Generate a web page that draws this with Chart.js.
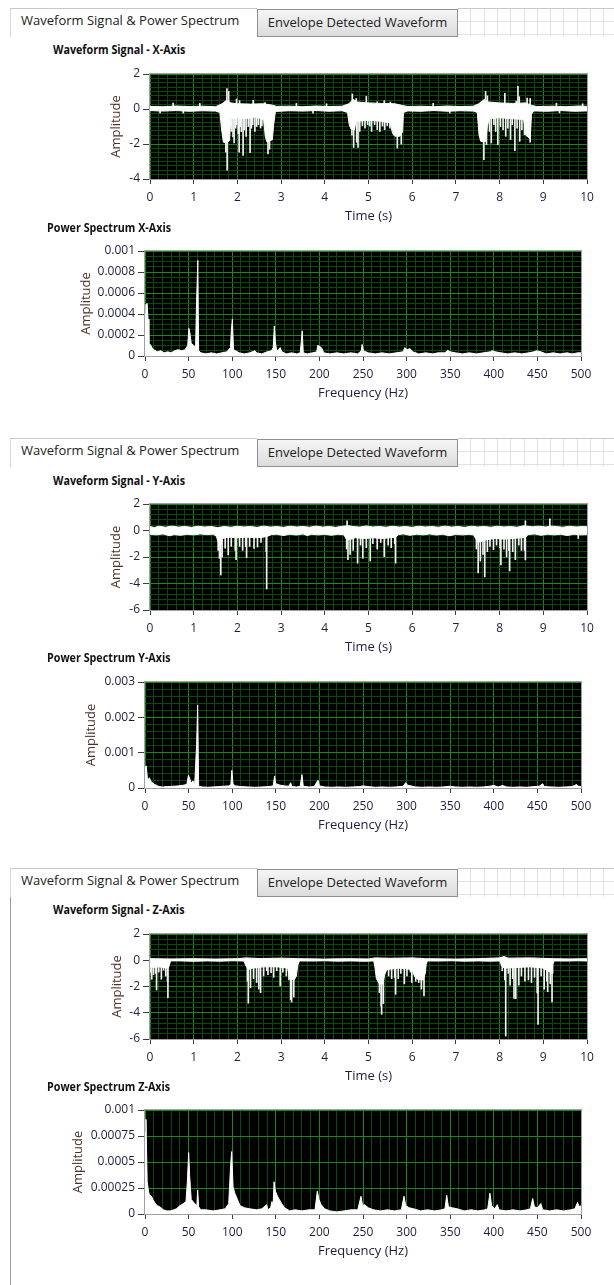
<!DOCTYPE html>
<html>
<head>
<meta charset="utf-8">
<title>Waveform Signal &amp; Power Spectrum</title>
<script src="https://cdn.jsdelivr.net/npm/chart.js@4.4.1/dist/chart.umd.min.js"></script>
<style>
  html, body { margin:0; padding:0; background:#fff; }
  body { position:relative; width:614px; height:1285px; overflow:hidden; font-family:"Open Sans","Noto Sans",sans-serif; color:#1a1a1a; }
  .strip { position:absolute; left:0; width:614px; height:29px; }
  .tab-on { position:absolute; left:10px; top:0; width:247px; height:29px; background:#fff; border-top:1px solid #c8c8c8; border-left:1px solid #d8d8d8; box-sizing:border-box; font-size:13px; line-height:22px; padding-left:10px; white-space:nowrap; color:#222; }
  .tab-off { position:absolute; left:257px; top:1px; width:201px; height:28px; box-sizing:border-box; border:1px solid #8e8e8e; background:linear-gradient(#f5f5f5,#dcdcdc); font-size:13px; line-height:25px; text-align:center; white-space:nowrap; color:#222; }
  .tab-grid { position:absolute; left:458px; top:0; width:156px; height:29px; border-top:1px solid #c8c8c8; box-sizing:border-box;
    background-image: repeating-linear-gradient(to right, transparent 0, transparent 12.3px, #e2e2e2 12.3px, #e2e2e2 13.3px),
                      repeating-linear-gradient(to bottom, transparent 0, transparent 12px, #e2e2e2 12px, #e2e2e2 13px); }
  .caption { position:absolute; font-weight:700; font-size:12.5px; line-height:16px; white-space:nowrap; color:#111; transform:scaleX(0.86); transform-origin:0 50%; }
  .edge { position:absolute; left:10px; width:1px; background:#9c9c9c; }
  canvas { position:absolute; left:0; }
</style>
</head>
<body>

<div class="strip" style="top:8px"><div class="tab-on">Waveform Signal &amp; Power Spectrum</div><div class="tab-off">Envelope Detected Waveform</div><div class="tab-grid"></div></div>
<div class="caption" style="left:53px; top:42px">Waveform Signal - X-Axis</div>
<canvas id="waveX"></canvas>
<div class="caption" style="left:47px; top:220px">Power Spectrum X-Axis</div>
<canvas id="specX"></canvas>

<div class="strip" style="top:438px"><div class="tab-on">Waveform Signal &amp; Power Spectrum</div><div class="tab-off">Envelope Detected Waveform</div><div class="tab-grid"></div></div>
<div class="caption" style="left:53px; top:473px">Waveform Signal - Y-Axis</div>
<canvas id="waveY"></canvas>
<div class="caption" style="left:47px; top:650px">Power Spectrum Y-Axis</div>
<canvas id="specY"></canvas>

<div class="edge" style="top:868px; height:417px"></div>
<div class="strip" style="top:868px"><div class="tab-on">Waveform Signal &amp; Power Spectrum</div><div class="tab-off">Envelope Detected Waveform</div><div class="tab-grid"></div></div>
<div class="caption" style="left:53px; top:902px">Waveform Signal - Z-Axis</div>
<canvas id="waveZ"></canvas>
<div class="caption" style="left:47px; top:1079px">Power Spectrum Z-Axis</div>
<canvas id="specZ"></canvas>

<script>
// ---------- time-domain signals ----------
// upper / lower edge of the dense trace, [time s, amplitude]
const waveXTop = [[0,0.15],[0.3,0.13],[0.6,0.17],[0.9,0.14],[1.2,0.16],[1.5,0.13],[1.65,0.3],[1.75,0.5],[1.85,0.35],[2.0,0.3],[2.3,0.28],[2.6,0.3],[2.8,0.22],[2.9,0.15],[3.2,0.16],[3.5,0.13],[3.8,0.17],[4.1,0.14],[4.4,0.16],[4.55,0.3],[4.65,0.55],[4.75,0.4],[5.0,0.35],[5.3,0.32],[5.6,0.3],[5.78,0.2],[5.9,0.14],[6.2,0.16],[6.5,0.13],[6.8,0.17],[7.1,0.14],[7.4,0.16],[7.52,0.3],[7.65,0.55],[7.75,0.4],[8.0,0.35],[8.3,0.32],[8.6,0.35],[8.74,0.2],[8.85,0.14],[9.2,0.16],[9.5,0.13],[9.8,0.17],[10,0.15]];
const waveXBottom = [[0,-0.09],[0.3,-0.12],[0.6,-0.09],[0.9,-0.13],[1.2,-0.1],[1.5,-0.12],[1.6,-0.2],[1.64,-1.2],[1.68,-1.9],[1.75,-1.95],[1.82,-1.8],[1.85,-0.55],[2.0,-0.5],[2.2,-0.55],[2.4,-0.45],[2.6,-0.6],[2.64,-1.6],[2.68,-1.9],[2.8,-1.75],[2.83,-0.9],[2.87,-0.14],[3.2,-0.1],[3.5,-0.12],[3.8,-0.09],[4.1,-0.13],[4.4,-0.1],[4.52,-0.2],[4.56,-0.9],[4.6,-1.15],[4.68,-1.2],[4.71,-0.7],[5.0,-0.65],[5.3,-0.7],[5.5,-0.8],[5.55,-1.4],[5.6,-1.55],[5.72,-1.55],[5.78,-1.3],[5.8,-0.2],[5.9,-0.11],[6.2,-0.13],[6.5,-0.09],[6.8,-0.13],[7.1,-0.1],[7.4,-0.12],[7.49,-0.2],[7.53,-1.5],[7.57,-1.85],[7.68,-1.85],[7.72,-1.0],[7.76,-0.55],[8.0,-0.5],[8.3,-0.55],[8.55,-0.6],[8.6,-1.5],[8.7,-1.7],[8.73,-0.3],[8.78,-0.11],[9.1,-0.13],[9.4,-0.09],[9.7,-0.13],[10,-0.11]];
// single-sample excursions, [time s, peak amplitude]
const waveXSpikes = [[0.23,-0.23],[0.53,0.34],[0.76,-0.23],[1.14,0.32],[3.35,0.32],[3.73,-0.24],[4.04,0.3],[6.48,0.32],[6.86,-0.23],[9.3,0.33],[9.37,-0.22],[9.9,0.3],
  [1.76,1.16],[1.8,1.0],[1.98,0.57],[2.05,0.48],[2.36,0.5],[2.63,0.36],
  [1.735,-2.46],[1.765,-3.5],[1.87,-1.28],[1.9,-1.6],[1.925,-1.94],[1.96,-1.1],[1.98,-0.9],[2.02,-1.4],[2.04,-2.46],[2.07,-1.0],[2.09,-1.3],[2.13,-2.65],[2.16,-1.2],[2.2,-1.56],[2.25,-1.0],[2.29,-2.5],[2.32,-1.1],[2.35,-0.9],[2.4,-1.28],[2.44,-1.0],[2.48,-0.9],[2.53,-1.09],[2.56,-0.95],[2.7,-2.57],[2.735,-2.3],
  [4.63,0.86],[4.72,0.6],[4.95,0.72],[5.2,0.42],[5.36,0.48],[5.5,0.4],
  [4.62,-1.5],[4.66,-2.2],[4.73,-1.9],[4.76,-2.2],[4.8,-1.28],[4.86,-0.95],[4.92,-1.09],[4.98,-0.9],[5.03,-0.97],[5.07,-1.28],[5.14,-0.9],[5.2,-1.18],[5.26,-1.28],[5.32,-0.97],[5.37,-1.18],[5.43,-0.95],[5.49,-1.09],[5.66,-2.23],[5.75,-2.0],
  [7.68,1.0],[7.72,0.75],[8.12,0.9],[8.38,0.45],[8.42,1.3],[8.45,0.7],[8.63,0.63],[8.7,0.6],
  [7.64,-2.9],[7.7,-2.04],[7.77,-1.28],[7.81,-1.94],[7.87,-0.9],[7.91,-1.28],[7.96,-2.04],[8.02,-1.0],[8.08,-1.18],[8.14,-1.56],[8.19,-1.09],[8.25,-1.75],[8.29,-0.9],[8.35,-2.38],[8.4,-1.09],[8.46,-1.85],[8.51,-1.18],[8.57,-1.47],[8.7,-1.9]];

const waveYTop = [[0,0.3],[0.1,0.22],[0.2,0.32],[0.35,0.25],[0.5,0.33],[0.65,0.26],[0.8,0.3],[0.95,0.24],[1.1,0.32],[1.25,0.27],[1.4,0.3],[1.55,0.22],[1.7,0.3],[1.85,0.25],[2.0,0.32],[2.15,0.27],[2.3,0.3],[2.45,0.24],[2.6,0.33],[2.75,0.26],[2.9,0.3],[3.05,0.24],[3.2,0.32],[3.35,0.27],[3.5,0.3],[3.65,0.25],[3.8,0.33],[3.95,0.26],[4.1,0.3],[4.25,0.24],[4.4,0.32],[4.55,0.36],[4.65,0.3],[4.8,0.26],[4.95,0.34],[5.1,0.27],[5.25,0.3],[5.4,0.25],[5.55,0.32],[5.7,0.26],[5.85,0.3],[6.0,0.24],[6.15,0.32],[6.3,0.27],[6.45,0.3],[6.6,0.25],[6.75,0.33],[6.9,0.26],[7.05,0.3],[7.2,0.24],[7.35,0.32],[7.5,0.27],[7.65,0.3],[7.8,0.25],[7.95,0.32],[8.1,0.27],[8.25,0.3],[8.4,0.25],[8.55,0.35],[8.75,0.28],[8.9,0.32],[9.05,0.27],[9.2,0.33],[9.3,0.3],[9.45,0.25],[9.6,0.32],[9.75,0.27],[9.9,0.3],[10,0.28]];
const waveYBottom = [[0,-0.28],[0.15,-0.33],[0.3,-0.26],[0.45,-0.4],[0.55,-0.31],[0.7,-0.36],[0.85,-0.28],[1.0,-0.33],[1.15,-0.26],[1.3,-0.31],[1.45,-0.28],[1.52,-0.45],[1.56,-0.9],[1.62,-1.1],[1.66,-0.6],[1.8,-0.5],[2.0,-0.55],[2.2,-0.5],[2.4,-0.55],[2.6,-0.5],[2.72,-0.4],[2.78,-0.3],[2.9,-0.28],[3.05,-0.38],[3.2,-0.28],[3.35,-0.34],[3.5,-0.26],[3.6,-0.38],[3.7,-0.28],[3.85,-0.33],[4.0,-0.28],[4.15,-0.36],[4.3,-0.28],[4.44,-0.33],[4.48,-0.6],[4.55,-0.7],[4.7,-0.55],[4.9,-0.6],[5.1,-0.55],[5.3,-0.6],[5.5,-0.55],[5.63,-0.5],[5.68,-0.31],[5.8,-0.26],[5.95,-0.36],[6.1,-0.28],[6.25,-0.33],[6.4,-0.26],[6.55,-0.34],[6.7,-0.28],[6.85,-0.4],[7.0,-0.28],[7.15,-0.33],[7.3,-0.28],[7.41,-0.34],[7.45,-0.6],[7.5,-0.9],[7.6,-0.8],[7.7,-0.7],[7.9,-0.6],[8.1,-0.65],[8.3,-0.6],[8.5,-0.55],[8.6,-0.5],[8.65,-0.31],[8.8,-0.26],[8.95,-0.36],[9.1,-0.28],[9.25,-0.33],[9.4,-0.28],[9.55,-0.38],[9.7,-0.28],[9.85,-0.33],[10,-0.31]];
const waveYSpikes = [[4.51,0.73],[8.59,0.73],[9.15,0.88],
  [1.56,-1.5],[1.59,-2.1],[1.62,-3.36],[1.65,-2.0],[1.72,-1.34],[1.79,-1.84],[1.86,-1.2],[1.95,-1.5],[1.97,-2.2],[2.05,-1.2],[2.12,-1.5],[2.19,-1.2],[2.21,-2.05],[2.28,-1.2],[2.38,-1.35],[2.46,-1.25],[2.54,-0.9],[2.66,-1.6],[2.67,-4.42],
  [4.5,-1.4],[4.53,-2.2],[4.58,-1.8],[4.65,-1.5],[4.75,-2.47],[4.82,-1.1],[4.87,-2.1],[4.95,-1.3],[5.04,-2.3],[5.1,-1.0],[5.2,-1.4],[5.28,-0.9],[5.36,-1.97],[5.45,-1.1],[5.52,-1.3],[5.6,-1.0],[5.62,-2.47],
  [7.47,-1.4],[7.51,-3.2],[7.56,-2.3],[7.62,-1.8],[7.66,-3.5],[7.72,-1.6],[7.78,-1.2],[7.86,-1.45],[7.93,-1.1],[8.01,-1.3],[8.03,-2.6],[8.1,-1.4],[8.16,-2.0],[8.21,-1.5],[8.23,-3.05],[8.3,-1.6],[8.36,-2.2],[8.44,-1.1],[8.5,-1.5],[8.57,-1.5],[8.59,-2.22],[9.8,-0.6]];

const waveZTop = [[0,0.12],[0.5,0.1],[1,0.12],[1.5,0.09],[2.0,0.12],[2.2,0.18],[2.5,0.13],[3.0,0.16],[3.4,0.12],[4,0.09],[4.5,0.12],[5.0,0.1],[5.15,0.18],[5.5,0.15],[6.0,0.18],[6.3,0.12],[7,0.09],[7.5,0.12],[8.0,0.18],[8.1,0.28],[8.2,0.16],[8.7,0.18],[9.2,0.12],[9.6,0.1],[10,0.12]];
const waveZBottom = [[0,-0.5],[0.1,-0.55],[0.2,-0.5],[0.3,-0.55],[0.42,-0.6],[0.45,-0.3],[0.47,-0.05],[0.7,-0.05],[1.0,-0.08],[1.3,-0.05],[1.6,-0.07],[1.9,-0.04],[2.15,-0.06],[2.19,-0.4],[2.25,-0.7],[2.35,-0.6],[2.6,-0.5],[2.9,-0.5],[3.15,-0.6],[3.2,-1.4],[3.3,-1.5],[3.35,-1.2],[3.38,-0.4],[3.42,-0.05],[3.7,-0.06],[4.0,-0.04],[4.3,-0.07],[4.6,-0.05],[4.9,-0.08],[5.12,-0.05],[5.15,-0.6],[5.18,-1.4],[5.25,-1.8],[5.33,-1.8],[5.37,-1.1],[5.42,-0.7],[5.7,-0.6],[6.0,-0.7],[6.05,-1.2],[6.12,-1.45],[6.25,-1.5],[6.3,-1.0],[6.32,-0.3],[6.35,-0.05],[6.6,-0.06],[6.9,-0.04],[7.2,-0.07],[7.5,-0.05],[7.8,-0.07],[8.01,-0.05],[8.04,-0.4],[8.1,-0.6],[8.4,-0.55],[8.7,-0.5],[9.0,-0.6],[9.15,-0.9],[9.2,-1.0],[9.22,-0.3],[9.25,-0.05],[9.5,-0.06],[9.8,-0.04],[10,-0.06]];
const waveZSpikes = [[0.02,-0.9],[0.04,-1.45],[0.08,-1.1],[0.13,-1.0],[0.15,-2.27],[0.2,-0.9],[0.26,-1.45],[0.31,-0.75],[0.36,-1.2],[0.4,-1.6],[0.41,-2.85],
  [2.23,-1.6],[2.25,-3.28],[2.3,-2.1],[2.37,-1.4],[2.44,-1.7],[2.49,-2.2],[2.53,-2.47],[2.6,-1.2],[2.67,-0.8],[2.7,-1.1],[2.77,-0.95],[2.83,-1.3],[2.9,-0.8],[2.98,-1.96],[3.04,-0.9],[3.12,-1.2],[3.18,-1.5],[3.22,-3.0],[3.24,-3.18],[3.29,-2.8],
  [5.25,-2.47],[5.29,-3.5],[5.3,-4.12],[5.34,-3.3],[5.46,-1.2],[5.53,-1.4],[5.6,-1.3],[5.62,-2.6],[5.68,-1.4],[5.74,-1.0],[5.82,-1.8],[5.88,-1.2],[5.96,-0.9],[5.99,-1.7],[6.08,-1.6],[6.15,-1.7],[6.21,-2.2],[6.27,-2.72],
  [8.06,-0.8],[8.12,-1.5],[8.14,-5.78],[8.2,-1.0],[8.24,-1.9],[8.3,-1.4],[8.33,-2.9],[8.37,-2.93],[8.44,-1.9],[8.5,-1.2],[8.58,-1.6],[8.66,-1.5],[8.73,-1.7],[8.8,-1.3],[8.86,-2.5],[8.88,-4.89],[8.95,-1.2],[9.02,-2.2],[9.08,-1.6],[9.1,-2.4],[9.16,-1.8],[9.2,-3.18]];

// ---------- power spectra: frequency (Hz) and amplitude ----------
const specXFreq = [0,1,2.5,3.5,4.5,6,8,10,14,18,22,26,30,34,38,42,46,49,50.3,51.5,53,56,58,59,60.6,61.5,64,70,76,82,88,94,98,99,100.2,101.5,104,108,114,120,126,128,134,140,145,147,148.3,149.5,151,153,155,157,162,168,174,178,179,180.3,181.5,186,192,197,198,201,203,205,212,220,228,236,244,248,249,250.5,256,264,272,280,288,296,298,300,304,307,314,322,330,336,344,347,350,356,364,372,380,388,396,398,402,408,416,424,432,440,446,449,454,460,468,476,484,490,496,500];
const specXAmp  = [0.0004,0.00049,0.0005,0.00035,0.00012,0.00011,0.00008,0.00006,0.00004,0.00005,0.00003,0.00004,0.00003,0.00005,0.00006,0.00005,0.00006,0.0001,0.000263,0.00022,0.00012,0.0001,0.00008,0.000476,0.00091,0.00005,0.00003,0.00002,0.00003,0.00002,0.00003,0.00004,0.00008,0.00024,0.00035,0.00006,0.00005,0.00003,0.00002,0.00003,0.00005,0.00003,0.00002,0.00004,0.00005,0.00008,0.000286,0.000137,0.00005,0.00006,0.00008,0.00004,0.00002,0.00003,0.00002,0.00003,0.000117,0.00024,0.00003,0.00002,0.00003,0.00004,0.0001,0.00009,0.00007,0.00003,0.00002,0.00003,0.00002,0.00003,0.00002,0.00005,0.00011,0.00005,0.00003,0.00002,0.00003,0.00002,0.00003,0.00004,0.00008,0.00006,0.00007,0.00004,0.00002,0.00003,0.00002,0.00003,0.00003,0.000055,0.00004,0.00003,0.00002,0.00003,0.00002,0.00003,0.00004,0.00005,0.00004,0.00003,0.00002,0.00003,0.00002,0.00003,0.00004,0.00005,0.00004,0.00002,0.00003,0.00002,0.00003,0.00002,0.00003,0.00003];

const specYFreq = [0,1.5,3,5,7,9,11,13,16,20,26,32,38,44,48,49.8,51,53,55,57,59.2,60.4,61.5,66,72,78,84,90,96,98.5,99.6,101,104,110,118,126,134,142,147,148.6,150,155,160,165,167,168.5,174,178,180,181.5,188,194,198.4,200,206,214,222,230,238,246,250,256,264,272,280,288,296,299,301,305,310,318,326,334,342,350,356,364,372,380,388,395,400,405,410,415,422,430,438,446,452,456,458,466,474,482,490,495,497,500];
const specYAmp  = [0.0006,0.00062,0.0002,0.00029,0.00018,0.00014,0.0001,0.00008,0.00004,0.00003,0.00004,0.00005,0.00006,0.00008,0.0001,0.00036,0.00029,0.00014,0.0002,0.00012,0.00123,0.00235,0.00005,0.00003,0.00002,0.00003,0.00004,0.00005,0.00006,0.0001,0.0005,0.0001,0.00006,0.00004,0.00003,0.00002,0.00003,0.00004,0.00006,0.00034,0.00012,0.00008,0.00006,0.00005,0.00015,0.00004,0.00003,0.00005,0.00038,0.00005,0.00003,0.00004,0.00022,0.00006,0.00003,0.00002,0.00003,0.00002,0.00003,0.00004,0.00006,0.00004,0.00002,0.00003,0.00002,0.00003,0.00005,0.00015,0.00008,0.00006,0.00003,0.00002,0.00003,0.00002,0.00003,0.00005,0.00003,0.00002,0.00003,0.00002,0.00003,0.00005,0.00007,0.00003,0.00007,0.00003,0.00002,0.00003,0.00002,0.00004,0.00005,0.00012,0.00004,0.00003,0.00002,0.00003,0.00004,0.0001,0.00005,0.00004];

const specZFreq = [0,1.1,2.5,4,5,7.5,9,11.5,14,17,21,25,29,33,36,40,44,47,48.5,50.1,51.2,53,55,57,59.5,60.4,61.5,64,70,78,86,92,96,98.2,99.4,101,103,106,109,114,120,128,134,139.5,141,144,145.6,147,148,149.5,152,154,156.7,160,166,172,180,188,195,197.6,199.5,202,206,212,220,228,236,244,247.7,249.5,252,256,262,270,278,286,294,297,299,303,308,316,324,332,340,344,346,348,352,358,366,374,382,390,393,395.6,397.5,401,404,406,414,422,430,438,442,444.6,446.5,450,454,456,464,472,480,488,493,496,498,500];
const specZAmp  = [0.00078,0.00091,0.00031,0.00022,0.000185,0.00017,0.00014,0.000105,0.00008,0.00007,0.00004,0.00003,0.00003,0.00004,0.00005,0.00008,0.0001,0.00012,0.0003,0.00059,0.00037,0.00014,0.00012,0.0001,0.00008,0.00023,0.00007,0.00004,0.00004,0.00003,0.00004,0.00005,0.0001,0.00047,0.0006,0.00026,0.0002,0.00014,0.00008,0.00006,0.00005,0.00004,0.00005,0.00009,0.00004,0.00006,0.00012,0.00009,0.00031,0.00022,0.00017,0.00014,0.0001,0.00006,0.00003,0.00004,0.00003,0.00004,0.00004,0.00022,0.00014,0.00009,0.00005,0.00003,0.00002,0.00003,0.00004,0.00004,0.00017,0.00008,0.00009,0.00006,0.00004,0.00003,0.00004,0.00003,0.00004,0.00017,0.00008,0.00006,0.00005,0.00003,0.00004,0.00003,0.00004,0.00005,0.00018,0.00007,0.00006,0.00005,0.00003,0.00004,0.00003,0.00004,0.00005,0.0002,0.00008,0.00005,0.00009,0.00004,0.00003,0.00004,0.00003,0.00004,0.00005,0.00015,0.00007,0.00006,0.0001,0.00004,0.00003,0.00004,0.00003,0.00004,0.00005,0.00011,0.00007,0.00008];

// ---------- drawing ----------
const FONT = '"Open Sans","Noto Sans",sans-serif';
const MAJOR_GRID = '#168c16';
const MINOR_GRID = '#0a4a0a';
const TICK_TEXT = '#1e1e3c';
const AMP_TEXT = '#50302a';
const TITLE_SIZE = 13;

function onStep(v, step) { const r = v / step; return Math.abs(r - Math.round(r)) < 1e-6; }
function tickText(v) { return String(parseFloat(v.toPrecision(6))); }

// black plot field underneath, thin grey frame on top
const scopeField = {
  id: 'scopeField',
  beforeDraw(chart) {
    const a = chart.chartArea, c = chart.ctx;
    c.save(); c.fillStyle = '#000'; c.fillRect(a.left, a.top, a.right - a.left, a.bottom - a.top); c.restore();
  },
  afterDraw(chart) {
    const a = chart.chartArea, c = chart.ctx;
    c.save(); c.strokeStyle = '#a0a0a0'; c.lineWidth = 1;
    c.strokeRect(Math.round(a.left) - 0.5, Math.round(a.top) - 0.5, Math.round(a.right - a.left) + 1, Math.round(a.bottom - a.top) + 1);
    c.restore();
  }
};

function makeAxis(o, horizontal, fixedSize, titlePad) {
  return {
    type: 'linear',
    position: horizontal ? 'bottom' : 'left',
    min: o.min, max: o.max,
    offset: false,
    afterBuildTicks(scale) {
      const n = Math.round((o.max - o.min) / o.minor);
      const list = [];
      for (let i = 0; i <= n; i++) list.push({ value: +(o.min + i * o.minor).toFixed(9) });
      scale.ticks = list;
    },
    afterFit(scale) { if (horizontal) scale.height = fixedSize; else scale.width = fixedSize; },
    ticks: {
      autoSkip: false, maxRotation: 0, minRotation: 0,
      padding: horizontal ? 6 : 3,
      color: TICK_TEXT,
      font: { family: FONT, size: 12 },
      callback: v => onStep(v, o.major) ? tickText(v) : ''
    },
    grid: {
      offset: false,
      color: c => (c.tick && onStep(c.tick.value, o.major)) ? MAJOR_GRID : MINOR_GRID,
      lineWidth: 1,
      drawTicks: true,
      tickLength: horizontal ? 5 : 7,
      tickWidth: 1,
      tickColor: c => (c.tick && onStep(c.tick.value, o.major)) ? '#3c3c3c' : 'rgba(0,0,0,0)'
    },
    border: { display: false },
    title: {
      display: true, text: o.title,
      color: horizontal ? TICK_TEXT : AMP_TEXT,
      font: { family: FONT, size: TITLE_SIZE },
      padding: horizontal ? { top: 0, bottom: titlePad } : { top: titlePad, bottom: 0 }
    }
  };
}

function scope(id, box, xAxis, yAxis, datasets) {
  const cv = document.getElementById(id);
  const top = box.plotTop - 12;
  const bottom = box.plotBottom + 48;
  cv.width = 614; cv.height = bottom - top;
  cv.style.top = top + 'px'; cv.style.width = '614px'; cv.style.height = (bottom - top) + 'px';
  const lh = TITLE_SIZE * 1.2;
  new Chart(cv, {
    type: 'line',
    data: { datasets },
    options: {
      responsive: false, animation: false, devicePixelRatio: 1,
      layout: { padding: { top: 12, right: 614 - box.plotRight, left: 0, bottom: 0 } },
      plugins: { legend: { display: false }, tooltip: { enabled: false } },
      elements: { point: { radius: 0 }, line: { tension: 0 } },
      scales: {
        x: makeAxis(xAxis, true, bottom - box.plotBottom, bottom - box.xTitleY - lh / 2),
        y: makeAxis(yAxis, false, box.plotLeft, box.yTitleX - lh / 2)
      }
    },
    plugins: [scopeField]
  });
}

const pts = pairs => pairs.map(p => ({ x: p[0], y: p[1] }));

// dense trace: filled band between the two edges plus one-pixel excursions
function trace(top, bottom, spikes) {
  return [
    { type: 'line', data: pts(top), borderColor: '#ffffff', borderWidth: 1, fill: false },
    { type: 'line', data: pts(bottom), borderColor: '#ffffff', borderWidth: 1, fill: '-1', backgroundColor: '#ffffff' },
    { type: 'bar', data: spikes.map(p => ({ x: p[0], y: [0, p[1]] })), backgroundColor: '#f4f4f4', borderWidth: 0, barThickness: 1, grouped: false }
  ];
}
function spectrumTrace(f, a) {
  return [{ type: 'line', data: f.map((x, i) => ({ x, y: a[i] })), borderColor: '#ffffff', borderWidth: 1, fill: 'origin', backgroundColor: '#ffffff' }];
}

const timeAxis = { min: 0, max: 10, major: 1, minor: 0.2, title: 'Time (s)' };
const freqAxis = { min: 0, max: 500, major: 50, minor: 10, title: 'Frequency (Hz)' };

scope('waveX', { plotLeft: 150, plotRight: 587, plotTop: 74, plotBottom: 179, xTitleY: 216, yTitleX: 116 },
  timeAxis, { min: -4, max: 2, major: 2, minor: 0.25, title: 'Amplitude' }, trace(waveXTop, waveXBottom, waveXSpikes));
scope('specX', { plotLeft: 145, plotRight: 581, plotTop: 251, plotBottom: 356, xTitleY: 393, yTitleX: 86 },
  freqAxis, { min: 0, max: 0.001, major: 0.0002, minor: 0.00005, title: 'Amplitude' }, spectrumTrace(specXFreq, specXAmp));

scope('waveY', { plotLeft: 150, plotRight: 587, plotTop: 504, plotBottom: 610, xTitleY: 647, yTitleX: 116 },
  timeAxis, { min: -6, max: 2, major: 2, minor: 0.4, title: 'Amplitude' }, trace(waveYTop, waveYBottom, waveYSpikes));
scope('specY', { plotLeft: 145, plotRight: 581, plotTop: 682, plotBottom: 788, xTitleY: 825, yTitleX: 91 },
  freqAxis, { min: 0, max: 0.003, major: 0.001, minor: 0.0002, title: 'Amplitude' }, spectrumTrace(specYFreq, specYAmp));

scope('waveZ', { plotLeft: 150, plotRight: 587, plotTop: 934, plotBottom: 1039, xTitleY: 1076, yTitleX: 117 },
  timeAxis, { min: -6, max: 2, major: 2, minor: 0.4, title: 'Amplitude' }, trace(waveZTop, waveZBottom, waveZSpikes));
scope('specZ', { plotLeft: 145, plotRight: 581, plotTop: 1110, plotBottom: 1214, xTitleY: 1251, yTitleX: 78 },
  freqAxis, { min: 0, max: 0.001, major: 0.00025, minor: 0.00025, title: 'Amplitude' }, spectrumTrace(specZFreq, specZAmp));
</script>
</body>
</html>
